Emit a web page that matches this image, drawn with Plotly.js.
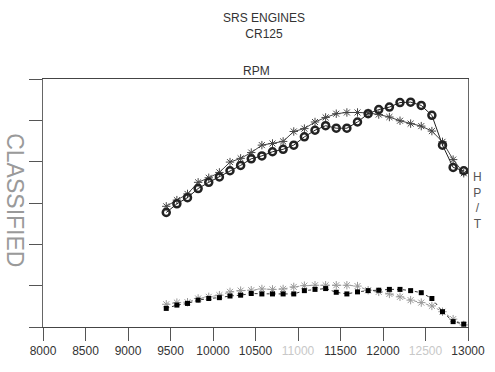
<!DOCTYPE html>
<html>
<head>
<meta charset="utf-8">
<script src="https://cdn.plot.ly/plotly-3.0.1.min.js"></script>
<style>html,body{margin:0;padding:0;background:#fff;}#chart{width:495px;height:372px;}</style>
</head>
<body>
<div id="chart"></div>
<script>
const rpm = [9450,9575,9700,9825,9950,10075,10200,10325,10450,10575,10700,10825,10950,11075,11200,11325,11450,11575,11700,11825,11950,12075,12200,12325,12450,12575,12700,12825,12950];
const upperCircle = [2.77,2.98,3.13,3.35,3.50,3.63,3.78,3.91,4.07,4.14,4.24,4.30,4.40,4.60,4.76,4.87,4.81,4.81,4.96,5.16,5.26,5.32,5.43,5.44,5.36,5.12,4.40,3.86,3.78];
const upperStar = [2.92,3.07,3.22,3.50,3.61,3.74,3.99,4.08,4.22,4.40,4.44,4.49,4.73,4.80,4.96,5.07,5.16,5.19,5.19,5.18,5.14,5.08,4.99,4.92,4.86,4.74,4.48,4.05,3.72];
const lowerSquare = [0.45,0.53,0.57,0.65,0.69,0.71,0.75,0.77,0.81,0.80,0.80,0.80,0.80,0.88,0.91,0.93,0.84,0.80,0.85,0.88,0.89,0.91,0.91,0.88,0.83,0.69,0.37,0.13,0.07];
const lowerStar = [0.55,0.59,0.60,0.69,0.73,0.77,0.85,0.88,0.89,0.92,0.91,0.92,0.97,1.00,1.01,1.01,1.01,1.01,0.99,0.89,0.85,0.80,0.73,0.65,0.59,0.51,0.37,0.19,0.05];
const xTicks = [8000,8500,9000,9500,10000,10500,11000,11500,12000,12500,13000];
const xTickText = ['8000','8500','9000','9500','10000','10500','<span style="color:#c8c8c8">11000</span>','11500','12000','<span style="color:#c8c8c8">12500</span>','13000'];
const yTicks = [0,1,2,3,4,5,6];
const sideLetters = ['H','P','/','T'];

const sans = '"Liberation Sans", Arial, sans-serif';

const traces = [
  {x: rpm, y: lowerStar, mode: 'lines+markers', type: 'scatter',
   line: {color: '#999', width: 1, dash: 'dot'},
   marker: {symbol: 'asterisk-open', size: 7, line: {color: '#666', width: 1}}},
  {x: rpm, y: lowerSquare, mode: 'lines+markers', type: 'scatter',
   line: {color: '#333', width: 1, dash: 'dot'},
   marker: {symbol: 'square', size: 5, color: '#000', line: {width: 0}}},
  {x: rpm, y: upperStar, mode: 'lines+markers', type: 'scatter',
   line: {color: '#444', width: 1},
   marker: {symbol: 'asterisk-open', size: 7, line: {color: '#333', width: 1}}},
  {x: rpm, y: upperCircle, mode: 'lines+markers', type: 'scatter',
   line: {color: '#222', width: 1},
   marker: {symbol: 'circle-open', size: 7, line: {color: '#000', width: 2.5}}}
];

const annotations = [
  {text: 'RPM', xref: 'paper', yref: 'paper', x: (256 - 43) / 425, y: (327 - 71) / 248.4,
   xanchor: 'center', yanchor: 'middle', showarrow: false,
   font: {family: sans, size: 12, color: '#333'}},
  {text: 'CLASSIFIED', xref: 'paper', yref: 'paper', x: (15 - 43) / 425, y: (327 - 200) / 248.4,
   xanchor: 'center', yanchor: 'middle', showarrow: false, textangle: 90,
   font: {family: sans, size: 23, color: '#9a9a9a'}},
  {text: sideLetters.join('<br>'), xref: 'paper', yref: 'paper',
   x: (478 - 43) / 425, y: (327 - 200) / 248.4,
   xanchor: 'center', yanchor: 'middle', showarrow: false,
   font: {family: sans, size: 12, color: '#555'}}
];

const layout = {
  width: 495, height: 372,
  margin: {l: 43, r: 27, t: 79, b: 45},
  paper_bgcolor: '#fff', plot_bgcolor: '#fff',
  showlegend: false,
  title: {text: 'SRS ENGINES<br>CR125', x: 264 / 495, xanchor: 'center',
          y: 1 - 22 / 372, yanchor: 'middle',
          font: {family: sans, size: 12, color: '#333'}},
  xaxis: {range: [8000, 13000], tickvals: xTicks, ticktext: xTickText,
          ticks: 'outside', ticklen: 13, tickcolor: '#555', tickwidth: 1,
          showline: true, linecolor: '#444', linewidth: 1, mirror: true,
          showgrid: false, zeroline: false,
          tickfont: {family: sans, size: 12, color: '#333'}},
  yaxis: {range: [0, 6], tickvals: yTicks, showticklabels: false,
          ticks: 'outside', ticklen: 13, tickcolor: '#555', tickwidth: 1,
          showline: true, linecolor: '#666', linewidth: 1, mirror: true,
          showgrid: false, zeroline: false},
  annotations: annotations
};

Plotly.newPlot('chart', traces, layout, {staticPlot: true, displayModeBar: false});
</script>
</body>
</html>
